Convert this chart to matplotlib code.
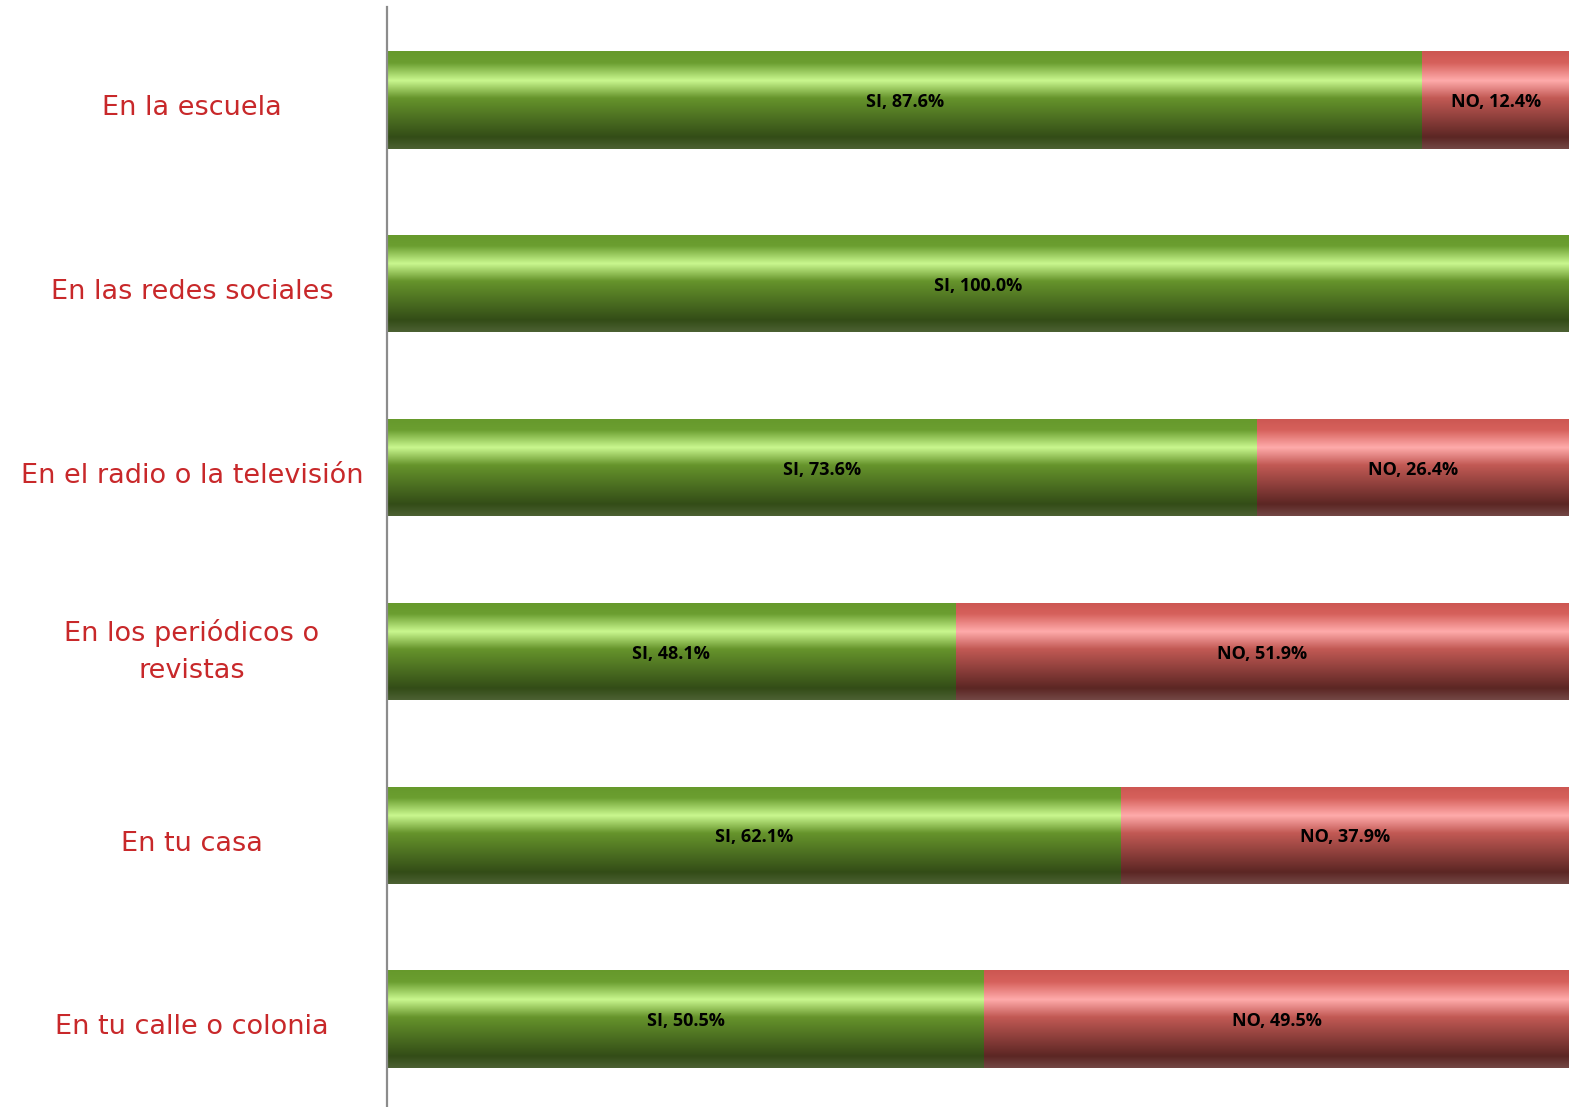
import numpy as np
import matplotlib.pyplot as plt
from matplotlib.colors import LinearSegmentedColormap
from matplotlib.transforms import blended_transform_factory

categories = ["En la escuela", "En las redes sociales", "En el radio o la televisión",
              "En los periódicos o\nrevistas", "En tu casa", "En tu calle o colonia"]
si_vals = [87.6, 100.0, 73.6, 48.1, 62.1, 50.5]
no_vals = [12.4, 0.0, 26.4, 51.9, 37.9, 49.5]

# vertical shading of the bars (top -> bottom)
green_cmap = LinearSegmentedColormap.from_list("g", [
    (0.00, (0.40, 0.60, 0.17)), (0.12, (0.42, 0.62, 0.19)),
    (0.30, (0.79, 0.97, 0.56)), (0.48, (0.40, 0.58, 0.17)),
    (0.88, (0.20, 0.30, 0.09)), (1.00, (0.30, 0.38, 0.20))])
red_cmap = LinearSegmentedColormap.from_list("r", [
    (0.00, (0.80, 0.34, 0.32)), (0.12, (0.84, 0.38, 0.36)),
    (0.30, (1.00, 0.67, 0.67)), (0.48, (0.76, 0.35, 0.33)),
    (0.88, (0.36, 0.15, 0.14)), (1.00, (0.45, 0.28, 0.27))])
grad = np.linspace(0, 1, 256).reshape(-1, 1)

fig = plt.figure(figsize=(15.69, 11.07), dpi=100)
ax = fig.add_axes([387 / 1569, 0, 1 - 387 / 1569, 1100 / 1107])

y = np.arange(len(categories))
h = 0.53
si_bars = ax.barh(y, si_vals, height=h, color="none")
no_bars = ax.barh(y, no_vals, left=si_vals, height=h, color="none")

for bars, cmap in [(si_bars, green_cmap), (no_bars, red_cmap)]:
    for p in bars:
        if p.get_width() <= 0:
            continue
        x0, y0 = p.get_x(), p.get_y()
        im = ax.imshow(grad, cmap=cmap, aspect="auto", interpolation="bilinear",
                       extent=(x0, x0 + p.get_width(), y0 + p.get_height(), y0))
        im.set_clip_path(p)

for i in range(len(categories)):
    ax.text(si_vals[i] / 2, y[i] + 0.012, f"SI, {si_vals[i]:.1f}%", ha="center", va="center",
            fontsize=13, fontweight="bold", family="Open Sans", color="black")
    if no_vals[i] > 0:
        ax.text(si_vals[i] + no_vals[i] / 2, y[i] + 0.012, f"NO, {no_vals[i]:.1f}%", ha="center",
                va="center", fontsize=13, fontweight="bold", family="Open Sans", color="black")

trans = blended_transform_factory(fig.transFigure, ax.transData)
for i, cat in enumerate(categories):
    dy = 0.0 if "\n" in cat else 0.045
    ax.text(192 / 1569, y[i] + dy, cat, transform=trans, ha="center", va="center",
            fontsize=19.5, color="#c8282a", family="DejaVu Sans", linespacing=1.55)

ax.set_xlim(0, 100)
ax.set_ylim(5.478, -0.505)
ax.set_xticks([])
ax.set_yticks([])
for s in ["top", "right", "bottom"]:
    ax.spines[s].set_visible(False)
ax.spines["left"].set_color("#8c8c8c")
ax.spines["left"].set_linewidth(1.6)

fig.savefig("out.png", dpi=100)
